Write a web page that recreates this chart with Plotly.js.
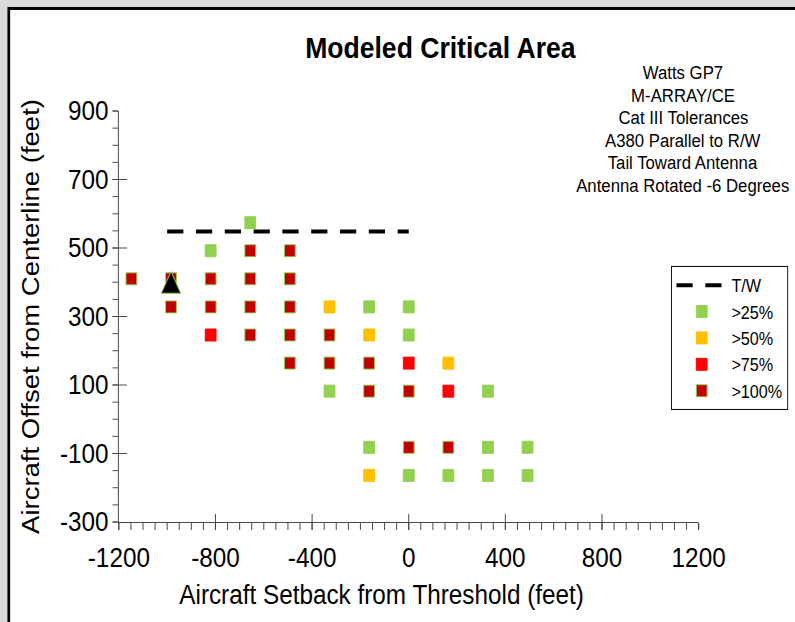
<!DOCTYPE html>
<html>
<head>
<meta charset="utf-8">
<script src="https://cdn.plot.ly/plotly-3.0.1.min.js"></script>
<style>
html, body { margin: 0; padding: 0; overflow: hidden; background: #d9d9d9; }
#chart { width: 883px; height: 622px; transform: scaleX(0.9003); transform-origin: 0 0; }
</style>
</head>
<body>
<div id="chart"></div>
<script>
// ---- data ----
const xTickVals = [-1200, -800, -400, 0, 400, 800, 1200];
const xTickText = ['-1200', '-800', '-400', '0', '400', '800', '1200'];
const yTickVals = [-300, -100, 100, 300, 500, 700, 900];
const yTickText = ['-300', '-100', '100', '300', '500', '700', '900'];

const seriesNames = ['>25%', '>50%', '>75%', '>100%'];
const seriesColors = ['#92D050', '#FFC000', '#FF0000', '#C00000'];

const x25 = [-656, -820, -164, 0, 0, -328, 328, -164, 328, 492, 0, 164, 328, 492];
const y25 = [574, 492, 328, 328, 246, 82, 82, -82, -82, -82, -164, -164, -164, -164];

const x50 = [-328, -164, 164, -164];
const y50 = [328, 246, 164, -164];

const x75 = [-820, 0, 164];
const y75 = [246, 164, 82];

const x100 = [-656, -492, -1148, -984, -820, -656, -492, -984, -820, -656, -492, -656, -492, -328, -492, -328, -164, -164, 0, 0, 164];
const y100 = [492, 492, 410, 410, 410, 410, 410, 328, 328, 328, 328, 246, 246, 246, 164, 164, 164, 82, 82, -82, -82];

const twName = 'T/W';
const twX = [-1000, 0];
const twY = [548, 548];

const antennaX = [-984];
const antennaY = [431];

const titleText = 'Modeled Critical Area';
const xTitle = 'Aircraft Setback from Threshold (feet)';
const yTitle = 'Aircraft Offset from Centerline (feet)';
const noteLines = ['Watts GP7', 'M-ARRAY/CE', 'Cat III Tolerances', 'A380 Parallel to R/W', 'Tail Toward Antenna', 'Antenna Rotated -6 Degrees'];

// ---- chart ----
const FONT = 'Liberation Sans, Arial, Helvetica, sans-serif';
const AX = '#404040';

const seriesX = [x25, x50, x75, x100];
const seriesY = [y25, y50, y75, y100];

const traces = [{
  type: 'scatter', mode: 'lines', name: twName, x: twX, y: twY,
  line: { color: '#000', width: 4, dash: '18px,14px' }, hoverinfo: 'skip'
}];
seriesNames.forEach((n, i) => {
  traces.push({
    type: 'scatter', mode: 'markers', name: n, x: seriesX[i], y: seriesY[i],
    marker: { symbol: 'square', size: 12, color: seriesColors[i],
      line: { color: i === 3 ? '#92D050' : seriesColors[i], width: 1 } }
  });
});
traces.push({
  type: 'scatter', mode: 'markers', name: 'Antenna', x: antennaX, y: antennaY,
  xaxis: 'x2', yaxis: 'y2', showlegend: false,
  marker: { symbol: 'arrow-up', size: 21.6, color: '#000', line: { color: '#92D050', width: 1 } }
});

const plotB = 522, plotH = 411;
const noteAnn = noteLines.map((t, i) => ({
  xref: 'paper', yref: 'paper', x: 0.973, y: (plotB - (73 + i * 22.4)) / plotH,
  xanchor: 'center', yanchor: 'middle', showarrow: false, text: t,
  font: { family: FONT, size: 18.6, color: '#000' }
}));

const layout = {
  width: 883, height: 622,
  margin: { l: 132, r: 107, t: 111, b: 100, pad: 0, autoexpand: false },
  paper_bgcolor: '#d9d9d9', plot_bgcolor: 'rgba(0,0,0,0)',
  font: { family: FONT, color: '#000' },
  showlegend: true,
  title: { text: titleText, font: { family: FONT, size: 29.5, weight: 'bold', color: '#000' },
    xref: 'container', x: 0.554, xanchor: 'center', yref: 'container', y: 1 - 48 / 622, yanchor: 'middle' },
  xaxis: {
    range: [-1200, 1200], tickmode: 'array', tickvals: xTickVals, ticktext: xTickText,
    ticks: 'outside', ticklen: 7, tickwidth: 1, tickcolor: AX,
    showline: true, linecolor: AX, linewidth: 1, showgrid: false, zeroline: false,
    tickfont: { family: FONT, size: 27, color: '#000' }, ticklabelstandoff: 5,
    minor: { tickmode: 'linear', tick0: -1200, dtick: 50, ticks: 'outside', ticklen: 7, tickwidth: 1, tickcolor: AX, showgrid: false },
    fixedrange: true
  },
  yaxis: {
    range: [-300, 900], tickmode: 'array', tickvals: yTickVals, ticktext: yTickText,
    ticks: 'outside', ticklen: 6, tickwidth: 1, tickcolor: AX,
    showline: true, linecolor: AX, linewidth: 1, showgrid: false, zeroline: false,
    tickfont: { family: FONT, size: 27, color: '#000' }, ticklabelstandoff: -1,
    minor: { tickmode: 'linear', tick0: -300, dtick: 50, ticks: 'outside', ticklen: 6, tickwidth: 1, tickcolor: AX, showgrid: false },
    title: { text: yTitle, font: { family: FONT, size: 27.5, color: '#000' }, standoff: 14 },
    fixedrange: true
  },
  xaxis2: {
    overlaying: 'x', anchor: 'y', side: 'bottom', range: [-1200, 1200],
    tickmode: 'array', tickvals: xTickVals, ticks: 'inside', ticklen: 8, tickwidth: 1, tickcolor: AX,
    showticklabels: false, showline: false, showgrid: false, zeroline: false, fixedrange: true
  },
  yaxis2: {
    overlaying: 'y', anchor: 'x', side: 'left', range: [-300, 900],
    tickmode: 'array', tickvals: yTickVals, ticks: 'inside', ticklen: 9, tickwidth: 1, tickcolor: AX,
    showticklabels: false, showline: false, showgrid: false, zeroline: false, fixedrange: true
  },
  legend: {
    xref: 'paper', yref: 'paper', x: 0.9525, xanchor: 'left', y: 0.623, yanchor: 'top',
    bgcolor: '#fff', bordercolor: '#000', borderwidth: 1,
    font: { family: FONT, size: 18, color: '#000' }, itemwidth: 56, traceorder: 'normal'
  },
  shapes: [{
    type: 'rect', xref: 'paper', yref: 'paper', x0: -0.1898, x1: 2, y0: -1, y1: 1.2494,
    fillcolor: '#fff', line: { color: '#000', width: 3 }, layer: 'below'
  }],
  annotations: noteAnn.concat([{
    xref: 'paper', yref: 'paper', x: 0.4528, y: (plotB - 595) / plotH,
    xanchor: 'center', yanchor: 'middle', showarrow: false, text: xTitle,
    font: { family: FONT, size: 27, color: '#000' }
  }])
};

Plotly.newPlot('chart', traces, layout, { displayModeBar: false, staticPlot: true });
</script>
</body>
</html>
